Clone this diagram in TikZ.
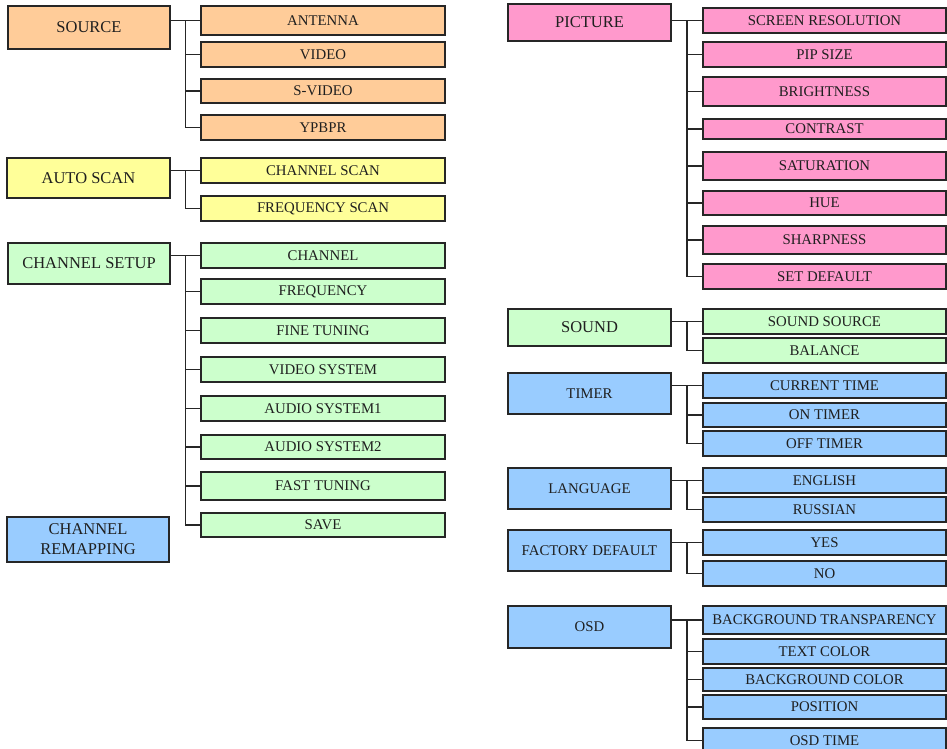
\documentclass[tikz,border=0pt]{standalone}
\usepackage{fontspec}
\setmainfont{Liberation Serif}
\usetikzlibrary{calc}
\definecolor{cOr}{HTML}{FFCC99}
\definecolor{cYe}{HTML}{FFFF99}
\definecolor{cGr}{HTML}{CCFFCC}
\definecolor{cBl}{HTML}{99CCFF}
\definecolor{cPk}{HTML}{FF99CC}
\tikzset{
  bx/.style={draw=black!85, line width=1.1pt, inner sep=0pt, outer sep=0pt,
    anchor=north west, text=black!88, align=center},
  chd/.style={bx, font=\fontsize{14.8}{16}\selectfont},
  pnode/.style={bx, font=\fontsize{16.5}{20}\selectfont},
  pnodeb/.style={bx, font=\fontsize{14.8}{16}\selectfont},
  conn/.style={draw=black!85, line width=1.1pt},
}
\newcommand\Bx[7]{\node[#6, minimum width={#4pt-#2pt}, minimum height={#5pt-#3pt}] (#1) at (#2,#3) {#7};}
\newcommand\Conn[3]{%
  \draw[conn] (#1.east |- #2.west) -- (#2.west);
  \coordinate (#1T) at ($(#1.east |- #2.west)!.5!(#2.west)$);
  \foreach \c in {#3} {\draw[conn] (#1T) |- (\c.west);}
}
\begin{document}
\begin{tikzpicture}[x=1pt,y=-1pt]
\fill[white] (0,0) rectangle (947,749);
\useasboundingbox (0,0) rectangle (947,749);
% ---- left column
\Bx{src}{8}{6}{170}{49}{pnode,fill=cOr}{SOURCE}
\Bx{ant}{201}{6}{445}{35}{chd,fill=cOr}{ANTENNA}
\Bx{vid}{201}{42}{445}{67}{chd,fill=cOr}{VIDEO}
\Bx{svid}{201}{79}{445}{103}{chd,fill=cOr}{S-VIDEO}
\Bx{ypb}{201}{115}{445}{140}{chd,fill=cOr}{YPBPR}
\Conn{src}{ant}{vid,svid,ypb}

\Bx{auto}{7}{158}{170}{198}{pnode,fill=cYe}{AUTO SCAN}
\Bx{chs}{201}{158}{445}{183}{chd,fill=cYe}{CHANNEL SCAN}
\Bx{frs}{201}{196}{445}{221}{chd,fill=cYe}{FREQUENCY SCAN}
\Conn{auto}{chs}{frs}

\Bx{cset}{8}{243}{170}{284}{pnode,fill=cGr}{CHANNEL SETUP}
\Bx{ch}{201}{243}{445}{268}{chd,fill=cGr}{CHANNEL}
\Bx{fr}{201}{279}{445}{304}{chd,fill=cGr}{FREQUENCY}
\Bx{ft}{201}{318}{445}{343}{chd,fill=cGr}{FINE TUNING}
\Bx{vs}{201}{357}{445}{382}{chd,fill=cGr}{VIDEO SYSTEM}
\Bx{asa}{201}{396}{445}{421}{chd,fill=cGr}{AUDIO SYSTEM1}
\Bx{asb}{201}{435}{445}{459}{chd,fill=cGr}{AUDIO SYSTEM2}
\Bx{fst}{201}{472}{445}{500}{chd,fill=cGr}{FAST TUNING}
\Bx{sav}{201}{513}{445}{537}{chd,fill=cGr}{SAVE}
\Conn{cset}{ch}{fr,ft,vs,asa,asb,fst,sav}

\Bx{crm}{7}{517}{169}{562}{pnode,fill=cBl}{CHANNEL\\REMAPPING}

% ---- right column
\Bx{pic}{508}{4}{671}{41}{pnode,fill=cPk}{PICTURE}
\Bx{sr}{703}{8}{946}{33}{chd,fill=cPk}{SCREEN RESOLUTION}
\Bx{pip}{703}{42}{946}{67}{chd,fill=cPk}{PIP SIZE}
\Bx{bri}{703}{77}{946}{106}{chd,fill=cPk}{BRIGHTNESS}
\Bx{con}{703}{119}{946}{139}{chd,fill=cPk}{CONTRAST}
\Bx{sat}{703}{152}{946}{180}{chd,fill=cPk}{SATURATION}
\Bx{hue}{703}{191}{946}{215}{chd,fill=cPk}{HUE}
\Bx{shp}{703}{226}{946}{254}{chd,fill=cPk}{SHARPNESS}
\Bx{sdf}{703}{264}{946}{289}{chd,fill=cPk}{SET DEFAULT}
\Conn{pic}{sr}{pip,bri,con,sat,hue,shp,sdf}

\Bx{snd}{508}{309}{671}{346}{pnode,fill=cGr}{SOUND}
\Bx{sso}{703}{309}{946}{334}{chd,fill=cGr}{SOUND SOURCE}
\Bx{bal}{703}{338}{946}{363}{chd,fill=cGr}{BALANCE}
\Conn{snd}{sso}{bal}

\Bx{tim}{508}{373}{671}{414}{pnodeb,fill=cBl}{TIMER}
\Bx{cur}{703}{373}{946}{398}{chd,fill=cBl}{CURRENT TIME}
\Bx{ont}{703}{403}{946}{427}{chd,fill=cBl}{ON TIMER}
\Bx{oft}{703}{431}{946}{456}{chd,fill=cBl}{OFF TIMER}
\Conn{tim}{cur}{ont,oft}

\Bx{lan}{508}{468}{671}{509}{pnodeb,fill=cBl}{LANGUAGE}
\Bx{eng}{703}{468}{946}{493}{chd,fill=cBl}{ENGLISH}
\Bx{rus}{703}{497}{946}{522}{chd,fill=cBl}{RUSSIAN}
\Conn{lan}{eng}{rus}

\Bx{fac}{508}{530}{671}{571}{pnodeb,fill=cBl}{FACTORY DEFAULT}
\Bx{yes}{703}{530}{946}{555}{chd,fill=cBl}{YES}
\Bx{no}{703}{561}{946}{586}{chd,fill=cBl}{NO}
\Conn{fac}{yes}{no}

\Bx{osd}{508}{606}{671}{648}{pnodeb,fill=cBl}{OSD}
\Bx{bgt}{703}{606}{946}{634}{chd,fill=cBl}{BACKGROUND TRANSPARENCY}
\Bx{tc}{703}{639}{946}{664}{chd,fill=cBl}{TEXT COLOR}
\Bx{bgc}{703}{668}{946}{691}{chd,fill=cBl}{BACKGROUND COLOR}
\Bx{pos}{703}{695}{946}{719}{chd,fill=cBl}{POSITION}
\Bx{ot}{703}{728}{946}{753}{chd,fill=cBl}{OSD TIME}
\Conn{osd}{bgt}{tc,bgc,pos,ot}
\end{tikzpicture}
\end{document}
